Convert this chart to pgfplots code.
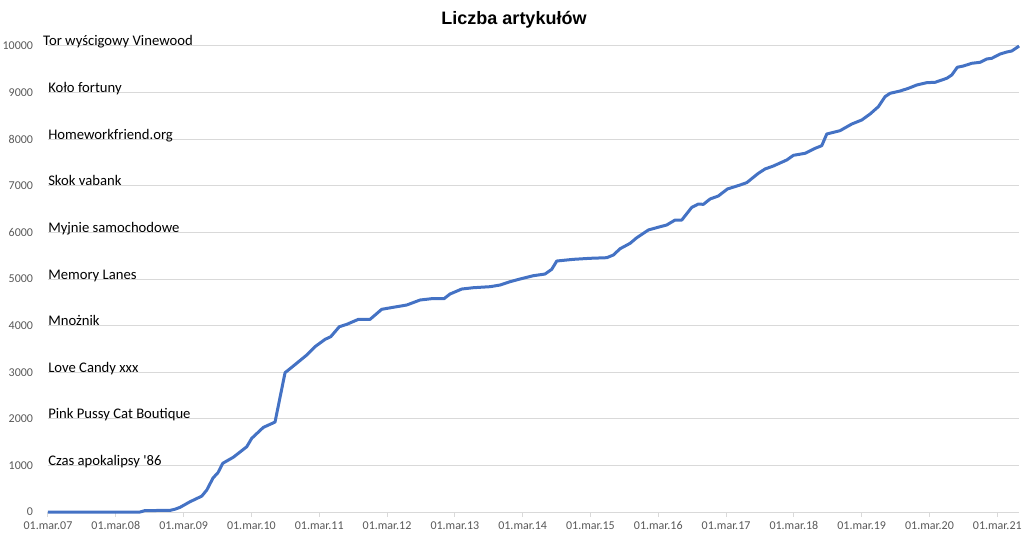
\documentclass[border=0pt]{standalone}
\usepackage{fontspec}
\setmainfont{Carlito}
\newfontfamily\titlefont{Liberation Sans}
\usepackage{pgfplots}
\pgfplotsset{compat=1.18}

\definecolor{linblue}{HTML}{4472C4}
\definecolor{gridgray}{HTML}{D9D9D9}
\definecolor{labgray}{HTML}{595959}

\begin{document}
\begin{tikzpicture}
\path[use as bounding box] (-36pt,-23.25pt) rectangle (739.5pt,384pt);
\begin{axis}[
    at={(0,0)}, anchor=south west,
    scale only axis,
    width=728.25pt, height=349.5pt,
    xmin=0, xmax=14.32,
    ymin=0, ymax=10000,
    axis x line*=bottom,
    axis y line*=left,
    y axis line style={draw=none},
    x axis line style={draw=gridgray, line width=0.75pt},
    ymajorgrids,
    grid style={gridgray, line width=0.75pt},
    ytick={0,1000,...,10000},
    xtick={0,1,...,14},
    xticklabels={01.mar.07,01.mar.08,01.mar.09,01.mar.10,01.mar.11,01.mar.12,01.mar.13,01.mar.14,01.mar.15,01.mar.16,01.mar.17,01.mar.18,01.mar.19,01.mar.20,01.mar.21},
    ytick style={draw=none},
    xtick style={draw=gridgray, line width=0.75pt},
    tick align=outside,
    major tick length=3.5pt,
    scaled y ticks=false,
    /pgf/number format/1000 sep={},
    /pgf/number format/assume math mode=true,
    ticklabel style={font=\fontsize{9}{10}\selectfont, text=labgray},
    yticklabel style={inner sep=0pt, xshift=-7.5pt},
    xticklabel style={inner sep=0pt, yshift=-3.5pt},
    clip=false,
]

    \addplot[linblue, line width=2.25pt, line join=round] coordinates {
        (0,0) (1.357,0) (1.43,30) (1.80,35) (1.873,60) (1.947,100)
        (2.094,220) (2.267,340) (2.341,470) (2.434,730) (2.507,845)
        (2.577,1045) (2.733,1175) (2.931,1400) (3.004,1580) (3.175,1815)
        (3.348,1930) (3.496,2990) (3.618,3133) (3.816,3369) (3.938,3548)
        (4.086,3705) (4.170,3762) (4.296,3976) (4.406,4027) (4.577,4134)
        (4.749,4134) (4.922,4350) (5.093,4393) (5.291,4442) (5.487,4549)
        (5.659,4578) (5.841,4578) (5.929,4678) (6.102,4785) (6.273,4813)
        (6.519,4835) (6.667,4871) (6.814,4942) (6.962,5000) (7.158,5071)
        (7.330,5107) (7.429,5208) (7.503,5386) (7.748,5422) (7.994,5444)
        (8.240,5457) (8.338,5515) (8.437,5650) (8.584,5765) (8.683,5886)
        (8.854,6052) (9.027,6122) (9.125,6159) (9.248,6266) (9.347,6266)
        (9.494,6538) (9.591,6609) (9.665,6602) (9.764,6717) (9.886,6781)
        (10.019,6931) (10.206,7017) (10.305,7068) (10.476,7268) (10.575,7361)
        (10.698,7425) (10.895,7554) (10.993,7654) (11.165,7697) (11.313,7804)
        (11.411,7861) (11.485,8112) (11.681,8183) (11.854,8326) (12.001,8412)
        (12.124,8541) (12.246,8698) (12.345,8913) (12.419,8985) (12.566,9034)
        (12.689,9092) (12.812,9163) (12.960,9213) (13.083,9221) (13.255,9307)
        (13.329,9378) (13.410,9544) (13.500,9571) (13.624,9629) (13.746,9650)
        (13.845,9721) (13.919,9736) (14.041,9828) (14.140,9871) (14.214,9893)
        (14.322,10000)
    };

    \begin{scope}[every node/.style={anchor=base west, inner sep=0pt, font=\fontsize{11}{13}\selectfont}]
        \node at (axis cs:-0.074,10020) {Tor wyścigowy Vinewood};
        \node at (axis cs:0,9000) {Koło fortuny};
        \node at (axis cs:0,8000) {Homeworkfriend.org};
        \node at (axis cs:0,7000) {Skok vabank};
        \node at (axis cs:0,6000) {Myjnie samochodowe};
        \node at (axis cs:0,5000) {Memory Lanes};
        \node at (axis cs:0,4000) {Mnożnik};
        \node at (axis cs:0,3000) {Love Candy xxx};
        \node at (axis cs:0,2000) {Pink Pussy Cat Boutique};
        \node at (axis cs:0,1000) {Czas apokalipsy \textquotesingle 86};
    \end{scope}
\end{axis}
\node at (349.5pt,369pt) {\titlefont\bfseries\fontsize{13.5}{15}\selectfont Liczba artykułów};
\end{tikzpicture}
\end{document}
